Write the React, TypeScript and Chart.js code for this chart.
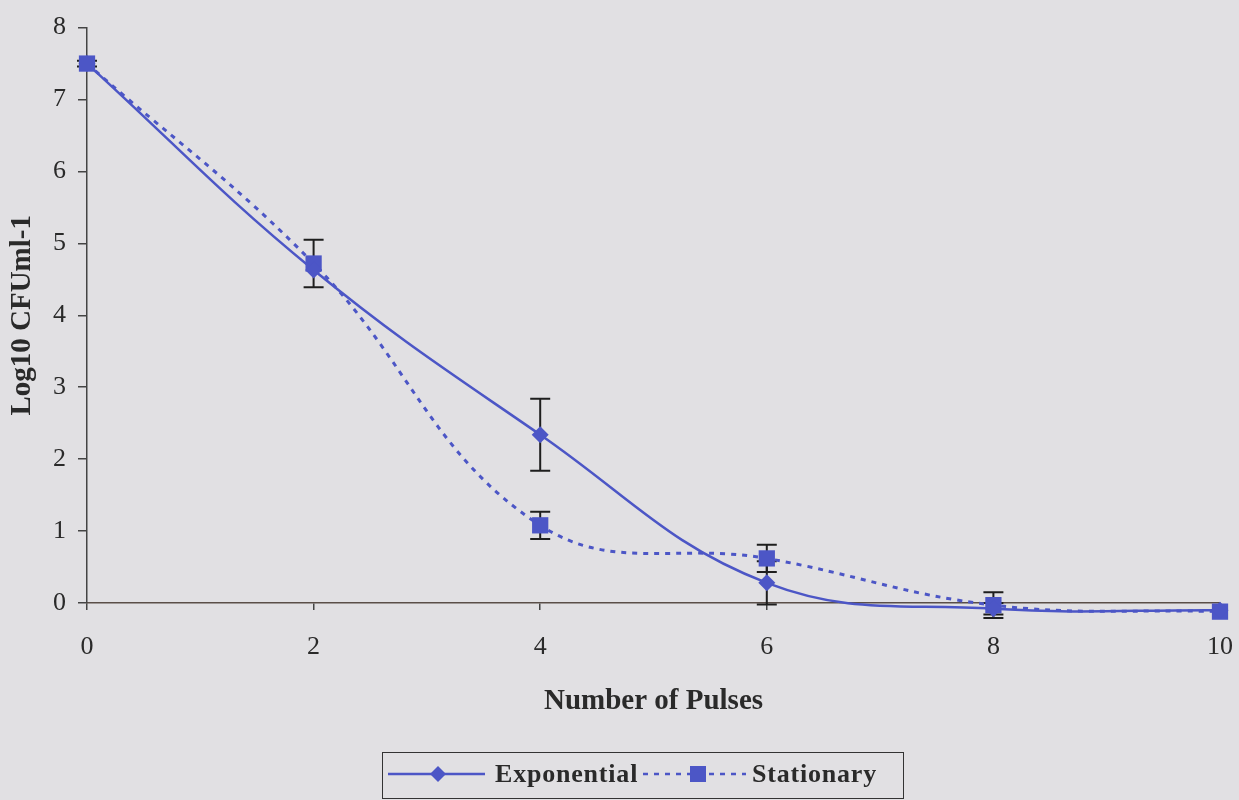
import React, { useEffect, useRef } from 'react';
import { Chart, registerables } from 'chart.js';

Chart.register(...registerables);

const pulses = [0, 2, 4, 6, 8, 10];
const xTickValues = [0, 2, 4, 6, 8, 10];
const yTickValues = [0, 1, 2, 3, 4, 5, 6, 7, 8];
const exponential = [7.5, 4.63, 2.34, 0.28, -0.08, -0.1];
const exponentialErr = [0, 0, 0.5, 0.3, 0.08, 0];
const stationary = [7.5, 4.72, 1.08, 0.62, -0.03, -0.12];
const stationaryErr = [0.04, 0.33, 0.19, 0.19, 0.18, 0];
const seriesNames = ['Exponential', 'Stationary'];
const xTitle = 'Number of Pulses';
const yTitle = 'Log10 CFUml-1';

const SERIF = '"Liberation Serif", "Times New Roman", serif';
const BLUE = '#4c56c6';
const BG = '#e1e0e3';
const INK = '#2a2a2a';

const errorBarPlugin = {
  id: 'errorBars',
  beforeDatasetsDraw(chart: any) {
    const { ctx, scales } = chart;
    const errs = [exponentialErr, stationaryErr];
    ctx.save();
    ctx.strokeStyle = '#1e1e1e';
    ctx.lineWidth = 2;
    chart.data.datasets.forEach((ds: any, i: number) => {
      ds.data.forEach((p: any, j: number) => {
        const e = errs[i][j];
        if (!e) return;
        const x = scales.x.getPixelForValue(p.x);
        const yTop = scales.y.getPixelForValue(p.y + e);
        const yBot = scales.y.getPixelForValue(p.y - e);
        ctx.beginPath();
        ctx.moveTo(x, yTop);
        ctx.lineTo(x, yBot);
        ctx.moveTo(x - 10, yTop);
        ctx.lineTo(x + 10, yTop);
        ctx.moveTo(x - 10, yBot);
        ctx.lineTo(x + 10, yBot);
        ctx.stroke();
      });
    });
    ctx.restore();
  },
};

const legendPlugin = {
  id: 'customLegend',
  afterDraw(chart: any) {
    const { ctx } = chart;
    ctx.save();
    ctx.strokeStyle = '#333';
    ctx.lineWidth = 1;
    ctx.strokeRect(382.5, 752.5, 521, 46);
    const cy = 774;
    ctx.font = `bold 26px ${SERIF}`;
    try { (ctx as any).letterSpacing = '0.8px'; } catch (e) {}
    ctx.fillStyle = INK;
    ctx.textBaseline = 'middle';
    // Exponential
    ctx.strokeStyle = BLUE;
    ctx.lineWidth = 2.5;
    ctx.setLineDash([]);
    ctx.beginPath();
    ctx.moveTo(388, cy);
    ctx.lineTo(485, cy);
    ctx.stroke();
    ctx.fillStyle = BLUE;
    ctx.beginPath();
    ctx.moveTo(438, cy - 8);
    ctx.lineTo(446, cy);
    ctx.lineTo(438, cy + 8);
    ctx.lineTo(430, cy);
    ctx.closePath();
    ctx.fill();
    ctx.fillStyle = INK;
    ctx.fillText(seriesNames[0], 495, cy + 1);
    // Stationary
    ctx.strokeStyle = BLUE;
    ctx.lineWidth = 2.5;
    ctx.setLineDash([5, 6]);
    ctx.beginPath();
    ctx.moveTo(643, cy);
    ctx.lineTo(746, cy);
    ctx.stroke();
    ctx.setLineDash([]);
    ctx.fillStyle = BLUE;
    ctx.fillRect(690, cy - 8, 16, 16);
    ctx.fillStyle = INK;
    ctx.fillText(seriesNames[1], 752, cy + 1);
    ctx.restore();
  },
};

export default function App() {
  const ref = useRef<HTMLCanvasElement | null>(null);

  useEffect(() => {
    document.body.style.margin = '0';
    document.body.style.background = BG;
    const canvas = ref.current;
    if (!canvas) return;
    const chart = new Chart(canvas, {
      type: 'line',
      data: {
        datasets: [
          {
            label: seriesNames[0],
            data: pulses.map((x, i) => ({ x, y: exponential[i] })),
            borderColor: BLUE,
            backgroundColor: BLUE,
            borderWidth: 2.5,
            pointStyle: 'rectRot',
            pointRadius: 8.5,
            pointBorderWidth: 0,
            tension: 0.4,
            clip: false,
          },
          {
            label: seriesNames[1],
            data: pulses.map((x, i) => ({ x, y: stationary[i] })),
            borderColor: BLUE,
            backgroundColor: BLUE,
            borderWidth: 3,
            borderDash: [5, 6],
            pointStyle: 'rect',
            pointRadius: 11.5,
            pointBorderWidth: 0,
            tension: 0.4,
            clip: false,
          },
        ],
      },
      options: {
        animation: false,
        responsive: false,
        maintainAspectRatio: false,
        layout: { padding: { top: 23, right: 19, bottom: 75, left: 0 } },
        plugins: { legend: { display: false }, tooltip: { enabled: false } },
        scales: {
          x: {
            type: 'linear',
            min: 0,
            max: 10,
            afterBuildTicks: (s: any) => {
              s.ticks = xTickValues.map((v) => ({ value: v }));
            },
            afterFit: (s: any) => {
              s.height = 122;
              s.paddingRight = 0;
              s.paddingLeft = 0;
            },
            ticks: {
              font: { family: SERIF, size: 26 },
              color: INK,
              padding: 22,
              maxRotation: 0,
            },
            grid: { display: true, drawOnChartArea: false, drawTicks: true, tickLength: 7, color: '#444', lineWidth: 1.5 },
            border: { display: true, color: '#5a4e48', width: 1.5 },
            title: {
              display: true,
              text: xTitle,
              font: { family: SERIF, size: 29, weight: 'bold' },
              color: INK,
              padding: { top: 0, bottom: 6 },
            },
          },
          y: {
            type: 'linear',
            min: 0,
            max: 8,
            afterBuildTicks: (s: any) => {
              s.ticks = yTickValues.map((v) => ({ value: v }));
            },
            afterFit: (s: any) => {
              s.width = 87;
            },
            ticks: {
              font: { family: SERIF, size: 26 },
              color: INK,
              padding: 12,
            },
            grid: { display: true, drawOnChartArea: false, drawTicks: true, tickLength: 9, color: '#444', lineWidth: 1.5 },
            border: { display: true, color: '#444', width: 1.5 },
            title: {
              display: true,
              text: yTitle,
              font: { family: SERIF, size: 29, weight: 'bold' },
              color: INK,
              padding: { top: 5, bottom: 0 },
            },
          },
        },
      },
      plugins: [errorBarPlugin, legendPlugin],
    } as any);
    return () => chart.destroy();
  }, []);

  return (
    <div style={{ position: 'fixed', left: 0, top: 0, width: 1239, height: 800, background: BG }}>
      <canvas ref={ref} width={1239} height={800} style={{ width: 1239, height: 800, display: 'block' }} />
    </div>
  );
}
